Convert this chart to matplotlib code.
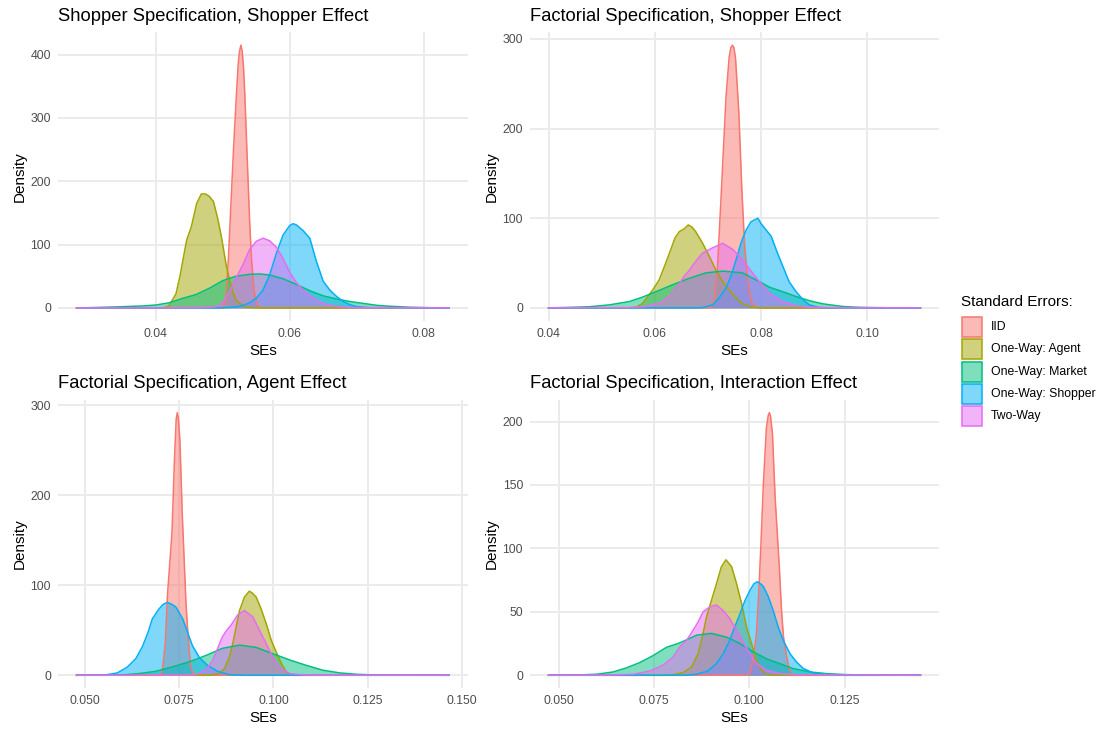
import matplotlib
matplotlib.use("Agg")
import matplotlib.pyplot as plt
from matplotlib.patches import Rectangle

plt.rcParams['font.family'] = ['Liberation Sans', 'DejaVu Sans']

series_names = ["IID", "One-Way: Agent", "One-Way: Market", "One-Way: Shopper", "Two-Way"]
series_colors = ["#F8766D", "#A3A500", "#00BF7D", "#00B0F6", "#E76BF3"]

# ---- Shopper Specification, Shopper Effect ----
ss_iid_x = [0.02816, 0.0500, 0.0504, 0.0508, 0.0512, 0.0516, 0.0520, 0.0523, 0.0525, 0.0527, 0.0529, 0.0531,
            0.0533, 0.0536, 0.0540, 0.0543, 0.0547, 0.0551, 0.0556, 0.08378]
ss_iid_y = [0, 0, 12, 70, 160, 250, 330, 385, 405, 415, 405, 380, 335, 250, 140, 75, 25, 6, 0, 0]
ss_agent_x = [0.02816, 0.0405, 0.0415, 0.042, 0.043, 0.0436, 0.0446, 0.0453, 0.0461, 0.0468, 0.0474, 0.0480,
              0.0486, 0.0492, 0.0498, 0.0505, 0.0510, 0.0515, 0.052, 0.053, 0.054, 0.055, 0.08378]
ss_agent_y = [0, 0, 1, 4, 22, 50, 107, 128, 165, 180, 180, 176, 168, 143, 112, 68, 44, 25, 12, 3, 0.5, 0, 0]
ss_market_x = [0.02816, 0.030, 0.034, 0.038, 0.040, 0.042, 0.044, 0.046, 0.048, 0.050, 0.052, 0.054, 0.0555,
               0.057, 0.059, 0.061, 0.063, 0.065, 0.067, 0.069, 0.071, 0.073, 0.075, 0.078, 0.081, 0.08378]
ss_market_y = [0.1, 0.3, 1.5, 3, 4.5, 8, 15, 21, 31, 43, 50, 53, 53.5, 52, 46, 37, 27, 19, 14, 10, 7, 4, 2.5, 1,
               0.3, 0]
ss_shopper_x = [0.02816, 0.050, 0.052, 0.053, 0.054, 0.055, 0.056, 0.057, 0.058, 0.059, 0.060, 0.0605, 0.061,
                0.062, 0.063, 0.064, 0.065, 0.066, 0.067, 0.068, 0.069, 0.070, 0.072, 0.08378]
ss_shopper_y = [0, 0, 1.5, 4, 8, 15, 28, 52, 86, 115, 130, 133, 131, 122, 110, 73, 42, 28, 18, 10, 5, 2, 0.3, 0]
ss_two_x = [0.02816, 0.040, 0.046, 0.048, 0.049, 0.050, 0.051, 0.052, 0.053, 0.054, 0.055, 0.056, 0.057, 0.058,
            0.059, 0.060, 0.061, 0.062, 0.063, 0.064, 0.065, 0.066, 0.068, 0.070, 0.08378]
ss_two_y = [0, 0, 0.5, 1, 2, 8, 25, 47, 68, 92, 105, 110, 106, 96, 78, 56, 40, 28, 19, 12, 7, 4, 1, 0.3, 0]

# ---- Factorial Specification, Shopper Effect ----
fs_iid_x = [0.040, 0.0705, 0.0712, 0.0718, 0.0724, 0.0729, 0.0734, 0.0740, 0.0743, 0.0746, 0.0749, 0.0752,
            0.0758, 0.0764, 0.0769, 0.0775, 0.0781, 0.0788, 0.0795, 0.110]
fs_iid_y = [0, 0, 8, 45, 115, 175, 235, 280, 290, 293, 290, 278, 220, 130, 70, 30, 8, 1, 0, 0]
fs_agent_x = [0.040, 0.055, 0.0565, 0.0577, 0.0586, 0.0596, 0.0608, 0.0618, 0.063, 0.0638, 0.0646, 0.0655,
              0.0663, 0.0670, 0.0677, 0.069, 0.0703, 0.0715, 0.0728, 0.074, 0.0753, 0.0765, 0.0784, 0.080, 0.110]
fs_agent_y = [0, 0, 0.8, 5, 12, 20, 31, 46, 65, 78, 85, 88, 92.5, 90, 85, 72, 57, 42, 29, 20, 11, 4.5, 0.7, 0, 0]
fs_market_x = [0.040, 0.043, 0.0476, 0.0514, 0.0552, 0.0577, 0.0602, 0.0633, 0.0665, 0.0696, 0.0728, 0.0765,
               0.0791, 0.0816, 0.0841, 0.0866, 0.0891, 0.0916, 0.0954, 0.0986, 0.104, 0.110]
fs_market_y = [0, 0.4, 1.2, 3.3, 7, 12, 18, 25.6, 33, 39, 41, 39, 31, 23, 18, 12.6, 8, 4.5, 1.5, 0.6, 0.1, 0]
fs_shopper_x = [0.040, 0.068, 0.069, 0.0709, 0.0721, 0.0734, 0.0743, 0.0753, 0.0762, 0.0772, 0.0781, 0.0794,
                0.0800, 0.0812, 0.0819, 0.0831, 0.0844, 0.0853, 0.0866, 0.0879, 0.0891, 0.091, 0.093, 0.110]
fs_shopper_y = [0, 0, 0.4, 3.3, 11, 22, 35, 53.5, 72, 87, 96, 100, 94, 85, 80, 61, 42, 29, 18, 9, 3.3, 0.4, 0, 0]
fs_two_x = [0.040, 0.055, 0.0583, 0.0608, 0.0627, 0.0643, 0.0655, 0.0665, 0.0677, 0.069, 0.0709, 0.0728, 0.0747,
            0.0765, 0.0784, 0.0797, 0.0816, 0.0841, 0.0866, 0.089, 0.095, 0.110]
fs_two_y = [0, 0.3, 1.5, 5, 12.6, 24, 35, 42, 52, 61, 67, 72, 65, 53.5, 39, 29, 16, 7, 2.2, 0.7, 0.1, 0]

# ---- Factorial Specification, Agent Effect ----
fa_iid_x = [0.0478, 0.0700, 0.0706, 0.0713, 0.0719, 0.0726, 0.0731, 0.0737, 0.0742, 0.0745, 0.0748, 0.0752,
            0.0758, 0.0763, 0.0768, 0.0774, 0.0780, 0.0786, 0.0792, 0.1465]
fa_iid_y = [0, 0, 8, 35, 90, 130, 160, 235, 285, 292, 285, 260, 180, 130, 80, 40, 12, 2, 0, 0]
fa_agent_x = [0.0478, 0.083, 0.0856, 0.087, 0.0883, 0.0892, 0.0901, 0.091, 0.0923, 0.0936, 0.0945, 0.0954,
              0.0967, 0.0981, 0.0994, 0.1007, 0.1021, 0.1034, 0.1043, 0.106, 0.1465]
fa_agent_y = [0, 0, 2, 7.4, 20, 35, 54, 72, 87, 93.5, 91, 87, 74, 57, 39, 26, 13, 3.7, 0.7, 0, 0]
fa_market_x = [0.0478, 0.055, 0.060, 0.0644, 0.0688, 0.0732, 0.0777, 0.0821, 0.0865, 0.091, 0.0954, 0.0998,
               0.1043, 0.1087, 0.1131, 0.1176, 0.122, 0.1264, 0.132, 0.1465]
fa_market_y = [0, 0.1, 0.4, 1.9, 4.4, 9.3, 15, 22, 30, 33.5, 31, 24, 17, 11, 5.6, 2.6, 1.1, 0.4, 0.1, 0]
fa_shopper_x = [0.0478, 0.0555, 0.0586, 0.0612, 0.0635, 0.0652, 0.0666, 0.0679, 0.0697, 0.0708, 0.0719, 0.0730,
                0.0741, 0.0759, 0.0772, 0.0785, 0.0803, 0.0825, 0.0852, 0.0883, 0.092, 0.1465]
fa_shopper_y = [0, 0.4, 2.6, 9, 18.5, 31.5, 46, 63, 74, 79, 81, 79, 76, 63, 48, 33, 20, 11, 4.4, 0.7, 0, 0]
fa_two_x = [0.0478, 0.075, 0.0794, 0.0821, 0.0839, 0.0852, 0.0865, 0.0876, 0.0888, 0.0905, 0.0923, 0.0945,
            0.0963, 0.0981, 0.0998, 0.1016, 0.1043, 0.108, 0.115, 0.1465]
fa_two_y = [0, 0.1, 0.7, 5.6, 16.7, 30, 43, 50, 56, 67, 72, 65, 50, 35, 20, 9, 1.9, 0.3, 0.1, 0]

# ---- Factorial Specification, Interaction Effect ----
fi_iid_x = [0.04738, 0.0995, 0.1002, 0.1010, 0.1019, 0.1025, 0.1031, 0.1037, 0.1045, 0.1050, 0.1053, 0.1056,
            0.1061, 0.1068, 0.1074, 0.1079, 0.1085, 0.1090, 0.1098, 0.1105, 0.1113, 0.112, 0.1449]
fi_iid_y = [0, 0, 2, 12, 33, 65, 105, 150, 195, 205, 207, 204, 190, 140, 110, 85, 50, 30, 15, 5, 0.5, 0, 0]
fi_agent_x = [0.04738, 0.078, 0.0801, 0.0827, 0.0849, 0.0866, 0.0879, 0.0888, 0.0901, 0.0914, 0.0927, 0.0939,
              0.0954, 0.0967, 0.098, 0.0993, 0.1006, 0.1019, 0.1032, 0.1045, 0.106, 0.1449]
fi_agent_y = [0, 0, 0.5, 2.1, 6.6, 17, 33, 46, 59, 72, 85.5, 91, 85.5, 72, 56.6, 38, 25, 12, 4, 0.8, 0, 0]
fi_market_x = [0.04738, 0.0556, 0.060, 0.0643, 0.0678, 0.0713, 0.0748, 0.0783, 0.0818, 0.0862, 0.0901, 0.0941,
               0.0976, 0.1011, 0.1045, 0.108, 0.1115, 0.1159, 0.1203, 0.1255, 0.132, 0.1449]
fi_market_y = [0, 0.3, 0.8, 2.6, 5.8, 10, 15.5, 22, 25.5, 31.6, 33, 30, 25, 18.4, 13, 9.2, 5.3, 2.6, 1.3, 0.5,
               0.1, 0]
fi_shopper_x = [0.04738, 0.083, 0.0862, 0.0892, 0.0914, 0.0932, 0.0949, 0.0962, 0.0976, 0.0989, 0.1002, 0.1012,
                0.1021, 0.1030, 0.1037, 0.105, 0.1063, 0.1076, 0.1089, 0.1107, 0.1124, 0.1142, 0.1168, 0.1203,
                0.125, 0.1449]
fi_shopper_y = [0, 0, 0.8, 3.4, 9.2, 17, 27.6, 38, 48.7, 59, 67, 72, 73.7, 72, 70, 62, 51, 38, 27.6, 17, 10.5,
                5.3, 1.8, 0.5, 0, 0]
fi_two_x = [0.04738, 0.062, 0.0696, 0.074, 0.0774, 0.0801, 0.0818, 0.0836, 0.0853, 0.0866, 0.0879, 0.0897,
            0.0914, 0.0932, 0.0949, 0.0967, 0.0984, 0.1002, 0.1019, 0.1045, 0.108, 0.1124, 0.1449]
fi_two_y = [0, 0.1, 0.8, 3.4, 7.9, 14.5, 22.4, 27.6, 35.5, 42, 50, 54, 55.3, 51, 44.7, 35.5, 26, 17, 9.2, 4, 1.3,
            0.3, 0]

titles = ["Shopper Specification, Shopper Effect", "Factorial Specification, Shopper Effect",
          "Factorial Specification, Agent Effect", "Factorial Specification, Interaction Effect"]
x_ticks = [[0.04, 0.06, 0.08], [0.04, 0.06, 0.08, 0.10],
           [0.050, 0.075, 0.100, 0.125, 0.150], [0.050, 0.075, 0.100, 0.125]]
x_labels = [["0.04", "0.06", "0.08"], ["0.04", "0.06", "0.08", "0.10"],
            ["0.050", "0.075", "0.100", "0.125", "0.150"], ["0.050", "0.075", "0.100", "0.125"]]
y_ticks = [[0, 100, 200, 300, 400], [0, 100, 200, 300], [0, 100, 200, 300], [0, 50, 100, 150, 200]]

panel_series = [
    [(ss_iid_x, ss_iid_y), (ss_agent_x, ss_agent_y), (ss_market_x, ss_market_y),
     (ss_shopper_x, ss_shopper_y), (ss_two_x, ss_two_y)],
    [(fs_iid_x, fs_iid_y), (fs_agent_x, fs_agent_y), (fs_market_x, fs_market_y),
     (fs_shopper_x, fs_shopper_y), (fs_two_x, fs_two_y)],
    [(fa_iid_x, fa_iid_y), (fa_agent_x, fa_agent_y), (fa_market_x, fa_market_y),
     (fa_shopper_x, fa_shopper_y), (fa_two_x, fa_two_y)],
    [(fi_iid_x, fi_iid_y), (fi_agent_x, fi_agent_y), (fi_market_x, fi_market_y),
     (fi_shopper_x, fi_shopper_y), (fi_two_x, fi_two_y)],
]

W, H = 1102, 730
fig = plt.figure(figsize=(W / 100, H / 100), dpi=100)


def box(x0, y0, x1, y1):
    # pixel box (top-left origin) -> figure fraction rect
    return [x0 / W, 1 - y1 / H, (x1 - x0) / W, (y1 - y0) / H]


panel_boxes = [box(58, 32, 467.5, 321), box(530, 32, 939, 321),
               box(58, 399.5, 467.5, 688.4), box(530, 399.5, 939, 688.4)]

for i in range(4):
    ax = fig.add_axes(panel_boxes[i])
    xmin, xmax, ymax = 1, 0, 0
    for (xs, ys), col in zip(panel_series[i], series_colors):
        ax.fill_between(xs, 0, ys, color=col, alpha=0.5, linewidth=0)
        ax.plot(xs, ys, color=col, linewidth=1.1)
        xmin, xmax, ymax = min(xmin, min(xs)), max(xmax, max(xs)), max(ymax, max(ys))
    xr = xmax - xmin
    ax.set_xlim(xmin - 0.05 * xr, xmax + 0.05 * xr)
    ax.set_ylim(-0.05 * ymax, 1.05 * ymax)
    ax.set_xticks(x_ticks[i])
    ax.set_xticklabels(x_labels[i])
    ax.set_yticks(y_ticks[i])
    ax.tick_params(length=0, pad=5, labelsize=8.8, labelcolor="#4D4D4D")
    ax.grid(True, color="#EBEBEB", linewidth=1.4)
    ax.set_axisbelow(True)
    for s in ax.spines.values():
        s.set_visible(False)
    ax.set_xlabel("SEs", fontsize=11, labelpad=2.75)
    ax.set_ylabel("Density", fontsize=11, labelpad=2.75)
    ax.set_title(titles[i], loc="left", fontsize=13.2, pad=8)

# legend, drawn by hand in pixel positions
fig.text(960.7 / W, 1 - 306 / H, "Standard Errors:", fontsize=11, va="baseline", ha="left")
for k, (name, col) in enumerate(zip(series_names, series_colors)):
    cy = 327 + 22.3 * k
    fig.patches.append(Rectangle((961.5 / W, 1 - (cy + 10) / H), 20.5 / W, 20 / H,
                                 transform=fig.transFigure, facecolor=col, alpha=0.5, linewidth=0))
    fig.patches.append(Rectangle((961.5 / W, 1 - (cy + 10) / H), 20.5 / W, 20 / H,
                                 transform=fig.transFigure, facecolor="none", edgecolor=col, linewidth=1.1))
    fig.text(990.7 / W, 1 - cy / H, name, fontsize=8.8, va="center", ha="left")

fig.savefig("out.png", dpi=100, facecolor="white")
